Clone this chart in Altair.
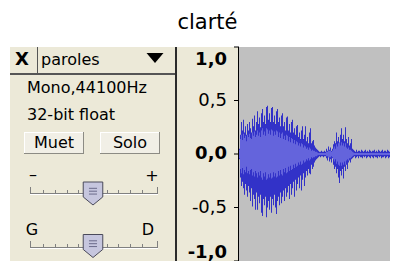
import altair as alt
import pandas as pd

TITLE = "clarté"

# Waveform: one value per screen column (peak max, peak min, rms)
peak_max = [
    0.05, 0.18, 0.30, 0.22, 0.32, 0.20, 0.26, 0.18, 0.28, 0.22,
    0.30, 0.24, 0.20, 0.33, 0.26, 0.36, 0.22, 0.30, 0.40, 0.28,
    0.34, 0.25, 0.38, 0.42, 0.30, 0.36, 0.28, 0.44, 0.45, 0.32,
    0.38, 0.30, 0.43, 0.44, 0.30, 0.36, 0.28, 0.40, 0.42, 0.30,
    0.34, 0.26, 0.36, 0.38, 0.26, 0.30, 0.22, 0.34, 0.35, 0.22,
    0.28, 0.20, 0.30, 0.32, 0.20, 0.24, 0.18, 0.26, 0.27, 0.16,
    0.20, 0.14, 0.22, 0.26, 0.14, 0.18, 0.26, 0.12, 0.16, 0.10,
    0.20, 0.24, 0.10, 0.12, 0.13, 0.08, 0.06, 0.05, 0.04, 0.03,
    0.02, 0.02, 0.03, 0.02, 0.02, 0.03, 0.02, 0.05, 0.03, 0.07,
    0.04, 0.06, 0.03, 0.05, 0.09, 0.12, 0.10, 0.20, 0.12, 0.16,
    0.10, 0.18, 0.24, 0.14, 0.18, 0.12, 0.25, 0.14, 0.10, 0.16,
    0.08, 0.10, 0.14, 0.05, 0.04, 0.03, 0.02, 0.04, 0.02, 0.03,
    0.03, 0.02, 0.04, 0.03, 0.02, 0.03, 0.04, 0.02, 0.03, 0.02,
    0.04, 0.03, 0.02, 0.03, 0.03, 0.04, 0.02, 0.03, 0.02, 0.04,
    0.03, 0.02, 0.03, 0.04, 0.02, 0.03, 0.03, 0.02, 0.04, 0.03,
    0.02,
]
peak_min = [
    -0.05, -0.22, -0.30, -0.26, -0.32, -0.38, -0.28, -0.34, -0.40, -0.30,
    -0.36, -0.44, -0.32, -0.49, -0.38, -0.42, -0.52, -0.36, -0.52, -0.40,
    -0.46, -0.38, -0.55, -0.58, -0.42, -0.48, -0.40, -0.59, -0.50, -0.44,
    -0.52, -0.40, -0.55, -0.42, -0.48, -0.38, -0.50, -0.56, -0.44, -0.40,
    -0.48, -0.36, -0.46, -0.40, -0.34, -0.44, -0.32, -0.40, -0.36, -0.30,
    -0.42, -0.28, -0.38, -0.32, -0.26, -0.40, -0.24, -0.34, -0.28, -0.22,
    -0.32, -0.20, -0.34, -0.24, -0.18, -0.30, -0.22, -0.16, -0.20, -0.14,
    -0.18, -0.19, -0.10, -0.14, -0.12, -0.08, -0.06, -0.05, -0.04, -0.03,
    -0.02, -0.03, -0.02, -0.02, -0.03, -0.02, -0.02, -0.04, -0.06, -0.03,
    -0.07, -0.05, -0.08, -0.04, -0.10, -0.14, -0.12, -0.18, -0.14, -0.22,
    -0.27, -0.16, -0.20, -0.14, -0.23, -0.12, -0.16, -0.10, -0.14, -0.08,
    -0.06, -0.08, -0.05, -0.04, -0.03, -0.02, -0.04, -0.03, -0.02, -0.04,
    -0.02, -0.03, -0.03, -0.04, -0.02, -0.03, -0.02, -0.04, -0.03, -0.02,
    -0.03, -0.04, -0.02, -0.03, -0.04, -0.02, -0.03, -0.03, -0.04, -0.02,
    -0.03, -0.02, -0.04, -0.03, -0.03, -0.02, -0.04, -0.03, -0.02, -0.04,
    -0.03,
]
rms = [
    0.04, 0.14, 0.18, 0.13, 0.19, 0.15, 0.17, 0.12, 0.18, 0.16,
    0.19, 0.15, 0.14, 0.20, 0.17, 0.21, 0.16, 0.18, 0.22, 0.17,
    0.20, 0.16, 0.22, 0.24, 0.18, 0.21, 0.17, 0.24, 0.23, 0.19,
    0.22, 0.18, 0.23, 0.22, 0.17, 0.21, 0.18, 0.22, 0.21, 0.16,
    0.20, 0.15, 0.19, 0.20, 0.14, 0.17, 0.13, 0.18, 0.17, 0.12,
    0.16, 0.11, 0.15, 0.14, 0.10, 0.13, 0.09, 0.12, 0.11, 0.08,
    0.10, 0.07, 0.10, 0.09, 0.06, 0.08, 0.07, 0.05, 0.06, 0.04,
    0.06, 0.05, 0.03, 0.04, 0.03, 0.03, 0.02, 0.02, 0.015, 0.01,
    0.01, 0.01, 0.01, 0.01, 0.01, 0.01, 0.01, 0.02, 0.02, 0.03,
    0.03, 0.03, 0.02, 0.03, 0.05, 0.07, 0.05, 0.09, 0.07, 0.10,
    0.11, 0.08, 0.11, 0.08, 0.10, 0.07, 0.10, 0.06, 0.05, 0.06,
    0.04, 0.04, 0.03, 0.02, 0.015, 0.01, 0.01, 0.01, 0.01, 0.01,
    0.01, 0.01, 0.01, 0.01, 0.01, 0.01, 0.01, 0.01, 0.01, 0.01,
    0.01, 0.01, 0.01, 0.01, 0.01, 0.01, 0.01, 0.01, 0.01, 0.01,
    0.01, 0.01, 0.01, 0.01, 0.01, 0.01, 0.01, 0.01, 0.01, 0.01,
    0.01,
]
y_ticks = [-1, -0.5, 0, 0.5, 1]
y_labels = ["-1,0", "-0,5", "0,0", "0,5", "1,0"]

# Track panel texts
track_name = "paroles"
info_lines = ["Mono,44100Hz", "32-bit float"]
button_labels = ["Muet", "Solo"]
gain_labels = ["\u2013", "+"]
pan_labels = ["G", "D"]

BEIGE = "#ECE9D8"
GRAY = "#C0C0C0"
DARK = "#3232C8"
LIGHT = "#6464DC"
FONT = "DejaVu Sans"

wave = pd.DataFrame({"col": list(range(len(peak_max))), "hi": peak_max,
                     "lo": peak_min, "rms": rms})
ticks = pd.DataFrame({"v": y_ticks, "lab": y_labels})

# ---- decoration (track panel) built in pixel space ----
rect_rows = [
    (0, 229, 0, 214, BEIGE),
    (0, 166, 26, 28, "#555555"),
    (27, 28, 0, 26, "#555555"),
    (165, 167, 0, 214, "#2B2B2B"),
]
for bx in (14, 90):
    rect_rows += [
        (bx, bx + 60, 85, 107, "#8C8B84"),
        (bx, bx + 59, 85, 106, "#FFFFFF"),
        (bx + 1, bx + 59, 86, 106, "#F1EFE6"),
    ]
for ty in (146, 200):
    rect_rows += [(20, 148, ty, ty + 1, "#808080"), (20, 148, ty + 1, ty + 2, "#FFFFFF")]
    for tx in (20, 147):
        rect_rows.append((tx, tx + 1, ty - 6, ty, "#808080"))
    for tx in (33, 45, 57, 68, 97, 108, 120, 132):
        rect_rows.append((tx, tx + 1, ty - 3, ty, "#808080"))
rects = pd.DataFrame(rect_rows, columns=["x", "x2", "y", "y2", "fill"])
rects["order"] = range(len(rects))

left_texts = pd.DataFrame({
    "t": [track_name] + info_lines,
    "x": [31, 17, 17], "y": [13, 41, 68]})
center_texts = pd.DataFrame({
    "t": button_labels + gain_labels + pan_labels,
    "x": [44, 120, 23, 142, 22, 138], "y": [96, 96, 128, 129, 183, 183]})
bold_texts = pd.DataFrame({"t": ["X"], "x": [12], "y": [13]})
thumbs = pd.DataFrame({"x": [83, 83], "y": [146.5, 199]})
menu = pd.DataFrame({"x": [145], "y": [11]})
title_df = pd.DataFrame({"t": [TITLE]})

PX = lambda f: alt.X(f"{f}:Q", scale=None, axis=None)
PY = lambda f: alt.Y(f"{f}:Q", scale=None, axis=None)

deco_rects = alt.Chart(rects).mark_rect().encode(
    x=PX("x"), x2="x2:Q", y=PY("y"), y2="y2:Q",
    color=alt.Color("fill:N", scale=None), order="order:Q")

txt_left = alt.Chart(left_texts).mark_text(
    align="left", baseline="middle", font=FONT, fontSize=16, color="black"
).encode(x=PX("x"), y=PY("y"), text="t:N")
txt_center = alt.Chart(center_texts).mark_text(
    align="center", baseline="middle", font=FONT, fontSize=16, color="black"
).encode(x=PX("x"), y=PY("y"), text="t:N")
txt_bold = alt.Chart(bold_texts).mark_text(
    align="center", baseline="middle", font=FONT, fontSize=18, fontWeight="bold", color="black"
).encode(x=PX("x"), y=PY("y"), text="t:N")
txt_title = alt.Chart(title_df).mark_text(
    align="center", baseline="alphabetic", font=FONT, fontSize=21, color="black"
).encode(x=alt.value(197.5), y=alt.value(-18), text="t:N")

thumb_shape = "M-0.85,-1L0.85,-1L0.85,0.3L0,1L-0.85,0.3Z"
grip_shape = "M-0.35,-0.45L0.35,-0.45M-0.35,-0.2L0.35,-0.2M-0.35,0.05L0.35,0.05"
thumb = alt.Chart(thumbs).mark_point(
    shape=thumb_shape, size=529, filled=True, fill="#C6C6DE", stroke="#4A4A5A",
    strokeWidth=1, opacity=1).encode(x=PX("x"), y=PY("y"))
grip = alt.Chart(thumbs).mark_point(
    shape=grip_shape, size=529, filled=False, stroke="#6A6A8A", strokeWidth=1,
    opacity=1).encode(x=PX("x"), y=PY("y"))
tri = alt.Chart(menu).mark_point(
    shape="M-1,-0.6L1,-0.6L0,0.6Z", size=289, filled=True, fill="black",
    opacity=1).encode(x=PX("x"), y=PY("y"))

# ---- waveform ----
xs = alt.Scale(domain=[0, len(peak_max)], range=[229, 380])
ys = alt.Scale(domain=[-1, 1], nice=False, zero=False)

base = alt.Chart(wave).transform_calculate(c1="datum.col + 1", nrms="-datum.rms")
peaks = base.mark_rect(color=DARK).encode(
    x=alt.X("col:Q", scale=xs, axis=None), x2="c1:Q",
    y=alt.Y("hi:Q", scale=ys, axis=None), y2="lo:Q")
rmsl = base.mark_rect(color=LIGHT).encode(
    x=alt.X("col:Q", scale=xs, axis=None), x2="c1:Q",
    y=alt.Y("rms:Q", scale=ys, axis=None), y2="nrms:Q")

# ---- amplitude axis (drawn through the y scale) ----
tb = alt.Chart(ticks)
ax_domain = tb.transform_aggregate(lo="min(v)", hi="max(v)").mark_rule(
    color="black", strokeWidth=1).encode(
    x=alt.value(228.5), y=alt.Y("lo:Q", scale=ys, axis=None), y2="hi:Q")
ax_ticks = tb.mark_rule(color="black", strokeWidth=1).encode(
    x=alt.value(224), x2=alt.value(229), y=alt.Y("v:Q", scale=ys, axis=None))


def lab_layer(test, bold, baseline, dy):
    return tb.transform_filter(test).mark_text(
        align="right", baseline=baseline, dy=dy, font=FONT, fontSize=18,
        fontWeight="bold" if bold else "normal", color="black"
    ).encode(x=alt.value(217), y=alt.Y("v:Q", scale=ys, axis=None), text="lab:N")


lab_half = lab_layer("abs(datum.v) == 0.5", False, "middle", 0)
lab_zero = lab_layer("datum.v == 0", True, "middle", 0)
lab_top = lab_layer("datum.v == 1", True, "top", 4)
lab_bot = lab_layer("datum.v == -1", True, "bottom", 1)

chart = alt.layer(
    deco_rects, peaks, rmsl, ax_domain, ax_ticks, lab_half, lab_zero, lab_top,
    lab_bot, txt_left, txt_center, txt_bold, thumb, grip, tri, txt_title
).properties(
    width=380, height=214,
    autosize=alt.AutoSizeParams(type="none"),
    padding={"left": 2, "top": 39, "right": 0, "bottom": 0},
    background="white",
).configure_view(fill=GRAY, stroke=None)

chart.save("out.html", embed_options={"renderer": "svg", "actions": False})
